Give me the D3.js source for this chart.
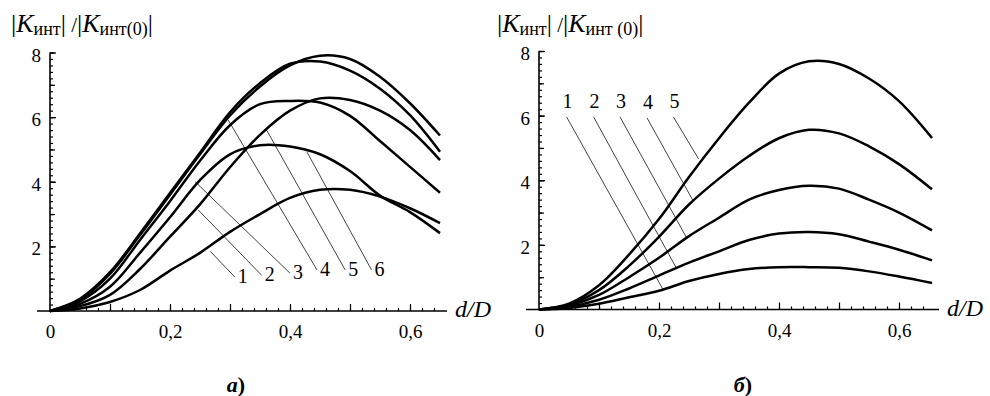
<!DOCTYPE html>
<html>
<head>
<meta charset="utf-8">
<script src="https://cdn.jsdelivr.net/npm/d3@7/dist/d3.min.js"></script>
<style>
  body { margin: 0; background: #fff; }
</style>
</head>
<body>
<div id="chart"></div>
<script>
// panel a: d/D grid and six curves
const xValuesA = [0, 0.05, 0.1, 0.15, 0.2, 0.25, 0.3, 0.35, 0.4, 0.45, 0.5, 0.55, 0.6, 0.65];
const curvesA = [
  [0, 0.08, 0.28, 0.65, 1.25, 1.8, 2.45, 3.0, 3.5, 3.75, 3.75, 3.54, 3.18, 2.72],
  [0, 0.15, 0.5, 1.3, 2.3, 3.3, 4.45, 5.45, 6.2, 6.58, 6.53, 6.2, 5.6, 4.67],
  [0, 0.22, 0.75, 1.8, 2.9, 4.05, 4.85, 5.13, 5.09, 4.85, 4.33, 3.57, 3.06, 2.41],
  [0, 0.3, 1.0, 2.2, 3.4, 4.65, 5.75, 6.4, 6.5, 6.45, 6.04, 5.26, 4.46, 3.66],
  [0, 0.38, 1.2, 2.4, 3.65, 4.9, 6.15, 7.05, 7.65, 7.72, 7.44, 6.88, 6.06, 4.93],
  [0, 0.35, 1.15, 2.35, 3.6, 4.85, 6.05, 6.95, 7.6, 7.9, 7.8, 7.25, 6.43, 5.43]
];
// leader lines a: label end (x1,y1) -> curve end (x2,y2), in data units
const leadersA = [
  { label: "1", x1: 0.308, y1: 1.05, x2: 0.267, y2: 1.85 },
  { label: "2", x1: 0.353, y1: 1.1, x2: 0.247, y2: 3.13 },
  { label: "3", x1: 0.4, y1: 1.17, x2: 0.242, y2: 4.0 },
  { label: "4", x1: 0.445, y1: 1.27, x2: 0.297, y2: 5.91 },
  { label: "5", x1: 0.492, y1: 1.27, x2: 0.361, y2: 5.6 },
  { label: "6", x1: 0.536, y1: 1.27, x2: 0.428, y2: 4.93 }
];

// panel б: five curves
const xValuesB = [0, 0.05, 0.1, 0.15, 0.2, 0.25, 0.3, 0.35, 0.4, 0.45, 0.5, 0.55, 0.6, 0.655];
const curvesB = [
  [0, 0.05, 0.18, 0.38, 0.58, 0.88, 1.1, 1.25, 1.31, 1.31, 1.29, 1.18, 1.02, 0.82],
  [0, 0.08, 0.3, 0.65, 1.05, 1.45, 1.8, 2.15, 2.35, 2.4, 2.33, 2.1, 1.85, 1.52],
  [0, 0.12, 0.45, 1.0, 1.6, 2.27, 2.84, 3.4, 3.7, 3.83, 3.74, 3.4, 3.0, 2.45],
  [0, 0.15, 0.6, 1.35, 2.25, 3.25, 4.05, 4.75, 5.3, 5.56, 5.45, 5.05, 4.5, 3.72],
  [0, 0.18, 0.75, 1.7, 2.8, 4.1, 5.3, 6.4, 7.3, 7.68, 7.6, 7.15, 6.45, 5.31]
];
const leadersB = [
  { label: "1", x1: 0.046, y1: 5.96, x2: 0.207, y2: 0.61 },
  { label: "2", x1: 0.091, y1: 5.96, x2: 0.229, y2: 1.28 },
  { label: "3", x1: 0.135, y1: 5.96, x2: 0.246, y2: 2.22 },
  { label: "4", x1: 0.18, y1: 5.93, x2: 0.257, y2: 3.36 },
  { label: "5", x1: 0.224, y1: 5.96, x2: 0.266, y2: 4.66 }
];

const yLabelTicks = [2, 4, 6, 8];
const xLabelTicks = [0, 0.2, 0.4, 0.6];

const width = 990;
const height = 396;
const serif = "'Liberation Serif', 'Times New Roman', serif";

const svg = d3.select("#chart")
  .append("svg")
  .attr("width", width)
  .attr("height", height)
  .attr("font-family", serif);

const fmt = d => d === 0 ? "0" : d.toFixed(1).replace(".", ",");

function drawPanel(p) {
  const x = d3.scaleLinear().domain([0, 0.6]).range([p.x0, p.x0 + 360]);
  const y = d3.scaleLinear().domain([0, 8]).range([p.y0, p.y0 - 258.5]);
  const g = svg.append("g");

  // y ticks: 0.2 minor, 1 medium, 2 major
  const yMinor = d3.range(1, 41).map(i => i / 5);
  g.append("g")
    .attr("transform", `translate(${p.x0},0)`)
    .call(d3.axisLeft(y).tickValues(yMinor).tickSize(-3).tickFormat(""))
    .call(a => a.select(".domain").remove());
  g.append("g")
    .attr("transform", `translate(${p.x0},0)`)
    .call(d3.axisLeft(y).tickValues(d3.range(1, 9)).tickSize(-5).tickFormat(""))
    .call(a => a.select(".domain").remove());
  g.append("g")
    .attr("transform", `translate(${p.x0},0)`)
    .call(d3.axisLeft(y).tickValues(yLabelTicks).tickSize(-6).tickPadding(15).tickFormat(d3.format("d")))
    .call(a => a.select(".domain").remove())
    .call(a => a.selectAll("text").attr("font-size", 19).attr("dy", "0.45em").attr("text-anchor", "end").attr("x", -9));

  // x ticks: 0.02 minor, 0.1 major, labels at 0.2
  const xMax = p.xEnd;
  const xMinor = d3.range(1, Math.floor(xMax / 0.02 + 1e-6) + 1).map(i => i * 0.02);
  g.append("g")
    .attr("transform", `translate(0,${p.y0})`)
    .call(d3.axisBottom(x).tickValues(xMinor).tickSize(-3).tickFormat(""))
    .call(a => a.select(".domain").remove());
  g.append("g")
    .attr("transform", `translate(0,${p.y0})`)
    .call(d3.axisBottom(x).tickValues([0.1, 0.2, 0.3, 0.4, 0.5, 0.6]).tickSize(-7).tickFormat(""))
    .call(a => a.select(".domain").remove());
  g.append("g")
    .attr("transform", `translate(0,${p.y0})`)
    .call(d3.axisBottom(x).tickValues(xLabelTicks).tickSize(0).tickPadding(14).tickFormat(fmt))
    .call(a => a.select(".domain").remove())
    .call(a => a.selectAll("text").attr("font-size", 19));

  g.selectAll("g").attr("font-family", serif);
  g.selectAll(".tick line").attr("stroke", "#000").attr("stroke-width", 1.2);

  // axis lines
  g.append("line")
    .attr("x1", p.x0 - 13).attr("x2", x(xMax) + 7)
    .attr("y1", p.y0).attr("y2", p.y0)
    .attr("stroke", "#000").attr("stroke-width", 1.6);
  g.append("line")
    .attr("x1", p.x0).attr("x2", p.x0)
    .attr("y1", p.y0 + 1).attr("y2", y(8))
    .attr("stroke", "#000").attr("stroke-width", 1.6);

  g.append("text")
    .attr("x", x(xMax) + 15)
    .attr("y", p.y0 + 6)
    .attr("font-size", 24)
    .attr("font-style", "italic")
    .text("d/D");

  // title
  const t = g.append("text").attr("x", p.titleX).attr("y", 32).attr("font-size", 26);
  t.append("tspan").text("|");
  t.append("tspan").attr("font-style", "italic").text("K");
  t.append("tspan").attr("font-size", 18).attr("dy", 3).text("инт");
  t.append("tspan").attr("dy", -3).text("|");
  t.append("tspan").attr("font-size", 21).text(" /");
  t.append("tspan").text("|");
  t.append("tspan").attr("font-style", "italic").text("K");
  t.append("tspan").attr("font-size", 18).attr("dy", 3).text(p.sub0);
  t.append("tspan").attr("dy", -3).text("|");

  // leaders and labels
  p.leaders.forEach(d => {
    g.append("line")
      .attr("x1", x(d.x1)).attr("y1", y(d.y1))
      .attr("x2", x(d.x2)).attr("y2", y(d.y2))
      .attr("stroke", "#444").attr("stroke-width", 1);
    g.append("text")
      .attr("x", x(d.x1) + p.labelDx)
      .attr("y", y(d.y1) + p.labelDy)
      .attr("font-size", 20)
      .attr("text-anchor", p.labelAnchor)
      .text(d.label);
  });

  // curves
  const line = d3.line()
    .x((v, i) => x(p.xs[i]))
    .y(v => y(v))
    .curve(d3.curveCatmullRom.alpha(0.5));
  p.curves.forEach(c => {
    g.append("path")
      .datum(c)
      .attr("fill", "none")
      .attr("stroke", "#000")
      .attr("stroke-width", 2.5)
      .attr("stroke-linejoin", "round")
      .attr("d", line);
  });

  // caption
  const cap = g.append("text")
    .attr("x", p.capX).attr("y", 392)
    .attr("font-size", 22)
    .attr("font-weight", "bold")
    .attr("text-anchor", "middle");
  cap.append("tspan").attr("font-style", "italic").text(p.caption);
  cap.append("tspan").text(")");
}

drawPanel({
  x0: 50, y0: 311, xEnd: 0.65, xs: xValuesA, curves: curvesA, leaders: leadersA,
  titleX: 11, sub0: "инт(0)", labelDx: 3, labelDy: 6, labelAnchor: "start",
  caption: "а", capX: 236
});
drawPanel({
  x0: 539, y0: 309.5, xEnd: 0.655, xs: xValuesB, curves: curvesB, leaders: leadersB,
  titleX: 497, sub0: "инт (0)", labelDx: 1, labelDy: -9, labelAnchor: "middle",
  caption: "б", capX: 743
});
</script>
</body>
</html>
